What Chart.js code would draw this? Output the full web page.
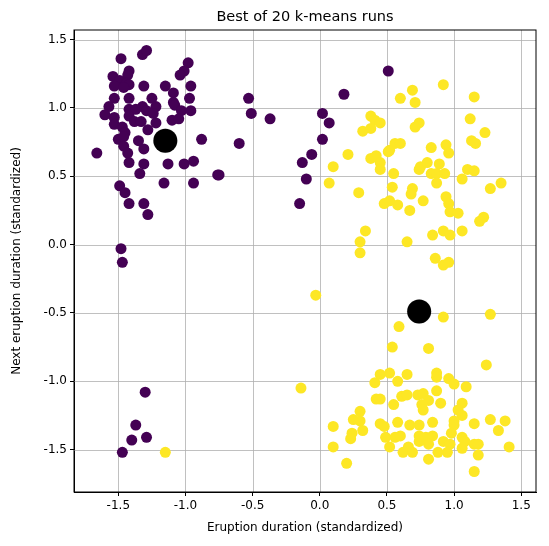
<!DOCTYPE html>
<html><head><meta charset="utf-8">
<script src="https://cdn.jsdelivr.net/npm/chart.js@4"></script>
<style>html,body{margin:0;background:#fff}#wrap{width:549px;height:546px}</style>
</head><body><div id="wrap"><canvas id="c"></canvas></div>
<script>
const cluster0 = [
  [-1.48,1.36],[-1.32,1.39],[-1.29,1.42],[-0.98,1.33],[-1.01,1.27],[-1.04,1.24],[-1.42,1.27],[-1.43,1.24],
  [-1.54,1.23],[-1.49,1.20],[-1.44,1.18],[-1.42,1.17],[-1.53,1.16],[-1.46,1.15],[-1.31,1.16],[-1.15,1.16],
  [-0.96,1.16],[-1.09,1.11],[-1.53,1.07],[-1.42,1.07],[-1.25,1.07],[-0.97,1.07],[-1.09,1.04],[-1.08,1.02],
  [-1.57,1.01],[-1.22,1.01],[-1.32,1.01],[-1.42,0.99],[-1.37,0.99],[-1.29,0.98],[-1.24,0.96],[-1.03,0.98],
  [-0.96,0.98],[-1.60,0.95],[-1.53,0.93],[-1.42,0.94],[-1.38,0.90],[-1.33,0.90],[-1.10,0.91],[-1.05,0.92],
  [-1.22,0.89],[-1.53,0.88],[-1.47,0.86],[-1.45,0.82],[-1.28,0.84],[-1.50,0.77],[-1.46,0.79],[-1.35,0.76],
  [-0.88,0.77],[-0.60,0.74],[-1.66,0.67],[-1.46,0.72],[-1.43,0.67],[-1.31,0.70],[-1.42,0.60],[-1.31,0.59],
  [-1.13,0.59],[-1.01,0.59],[-0.94,0.61],[-1.34,0.52],[-0.76,0.51],[-0.75,0.51],[-1.49,0.43],[-1.45,0.38],
  [-1.16,0.45],[-0.94,0.45],[-1.42,0.30],[-1.31,0.30],[-1.28,0.22],
  [-0.53,1.07],[-0.51,0.96],[-0.37,0.92],[0.02,0.96],[0.07,0.89],[0.02,0.77],[-0.06,0.66],[-0.13,0.60],
  [-0.10,0.48],[-0.15,0.30],[0.18,1.10],[0.51,1.27],
  [-1.48,-0.03],[-1.47,-0.13],[-1.30,-1.08],[-1.37,-1.32],[-1.40,-1.43],[-1.29,-1.41],[-1.47,-1.52]
];
const cluster1 = [
  [-1.15,-1.52],[-0.03,-0.37],[-0.14,-1.05],
  [0.92,1.17],[0.69,1.13],[0.60,1.07],[0.71,1.04],[1.15,1.08],[0.38,0.94],[0.41,0.91],[0.45,0.89],
  [0.32,0.83],[0.38,0.85],[0.74,0.89],[0.71,0.86],[1.12,0.92],[1.23,0.82],[0.56,0.74],[0.60,0.74],
  [0.51,0.68],[0.52,0.69],[0.83,0.71],[0.94,0.73],[0.96,0.67],[1.13,0.76],[1.16,0.74],[0.21,0.66],
  [0.38,0.63],[0.42,0.65],[0.45,0.60],[0.45,0.55],[0.10,0.57],[0.55,0.52],[0.74,0.55],[0.75,0.57],
  [0.80,0.60],[0.89,0.59],[0.83,0.52],[0.87,0.52],[0.93,0.52],[1.10,0.55],[1.15,0.54],[0.07,0.45],
  [0.87,0.45],[1.06,0.48],[1.35,0.45],[1.27,0.41],[0.29,0.38],[0.54,0.42],[0.69,0.41],[0.68,0.37],
  [0.48,0.30],[0.52,0.32],[0.58,0.29],[0.77,0.32],[0.67,0.25],[0.94,0.35],[0.96,0.30],[0.97,0.24],
  [1.03,0.23],[1.22,0.20],[1.19,0.17],[0.34,0.10],[0.30,0.02],[0.30,-0.06],[0.65,0.02],[0.84,0.07],
  [0.92,0.10],[0.97,0.07],[1.06,0.10],[0.86,-0.10],[0.92,-0.15],[0.96,-0.13],
  [0.92,-0.53],[1.27,-0.51],[0.59,-0.60],[0.54,-0.75],[0.81,-0.76],[1.24,-0.88],[0.41,-1.01],[0.45,-0.95],
  [0.52,-0.94],[0.58,-1.00],[0.65,-0.95],[0.87,-0.94],[0.87,-0.97],[0.96,-0.98],[1.00,-1.02],[1.09,-1.04],
  [0.87,-1.07],[0.42,-1.13],[0.45,-1.13],[0.61,-1.11],[0.65,-1.10],[0.73,-1.10],[0.77,-1.09],[0.81,-1.14],
  [0.76,-1.17],[0.77,-1.21],[0.90,-1.16],[1.06,-1.16],[1.03,-1.21],[1.06,-1.25],[0.55,-1.17],[0.30,-1.22],
  [0.30,-1.29],[0.25,-1.28],[0.32,-1.36],[0.24,-1.38],[0.23,-1.42],[0.10,-1.33],[0.10,-1.48],[0.45,-1.31],
  [0.48,-1.33],[0.58,-1.30],[0.67,-1.32],[0.74,-1.32],[0.84,-1.30],[1.00,-1.29],[1.00,-1.32],[1.15,-1.31],
  [1.27,-1.28],[1.38,-1.29],[1.33,-1.36],[1.41,-1.48],[0.49,-1.41],[0.56,-1.41],[0.60,-1.40],[0.52,-1.48],
  [0.66,-1.48],[0.62,-1.52],[0.69,-1.52],[0.74,-1.44],[0.74,-1.40],[0.79,-1.41],[0.84,-1.40],[0.81,-1.46],
  [0.92,-1.44],[0.98,-1.38],[0.97,-1.46],[0.95,-1.52],[0.88,-1.52],[1.06,-1.41],[1.08,-1.44],[1.06,-1.49],
  [1.15,-1.46],[1.18,-1.46],[1.18,-1.54],[0.81,-1.57],[0.20,-1.60],[1.15,-1.66]
];
const centroids = [[-1.15,0.76],[0.74,-0.49]];
const xTicks = [-1.5,-1.0,-0.5,0.0,0.5,1.0,1.5];
const yTicks = [-1.5,-1.0,-0.5,0.0,0.5,1.0,1.5];
const pts = (a) => a.map(p => ({x:p[0], y:p[1]}));
const font = {family:'DejaVu Sans', size:12};

// grid under the points, title and frame on top
const framePlugin = {
  id:'frame',
  beforeDatasetsDraw(c) {
    const ctx = c.ctx, a = c.chartArea, sx = c.scales.x, sy = c.scales.y;
    ctx.save();
    ctx.strokeStyle = '#b0b0b0'; ctx.lineWidth = 0.8;
    xTicks.forEach(v => { const p = Math.round(sx.getPixelForValue(v)) + 0.5; ctx.beginPath(); ctx.moveTo(p, a.top); ctx.lineTo(p, a.bottom); ctx.stroke(); });
    yTicks.forEach(v => { const p = Math.round(sy.getPixelForValue(v)) + 0.5; ctx.beginPath(); ctx.moveTo(a.left, p); ctx.lineTo(a.right, p); ctx.stroke(); });
    ctx.restore();
  },
  afterDraw(c) {
    const ctx = c.ctx, a = c.chartArea;
    ctx.save();
    ctx.font = '14.5px DejaVu Sans'; ctx.fillStyle = '#000'; ctx.textAlign = 'center'; ctx.textBaseline = 'middle';
    ctx.fillText('Best of 20 k-means runs', (a.left + a.right) / 2, 17);
    ctx.strokeStyle = '#000'; ctx.lineWidth = 1;
    ctx.strokeRect(a.left, a.top, a.right - a.left, a.bottom - a.top);
    ctx.restore();
  }
};

new Chart(document.getElementById('c'), {
  type:'scatter',
  data:{datasets:[
    {data:pts(centroids), backgroundColor:'#000', pointRadius:12, pointHoverRadius:12, order:0},
    {data:pts(cluster0), backgroundColor:'#440154', pointRadius:5.5, borderWidth:0, order:1},
    {data:pts(cluster1), backgroundColor:'#fde725', pointRadius:5.5, borderWidth:0, order:1}
  ]},
  options:{
    responsive:true, maintainAspectRatio:false, animation:false,
    layout:{padding:{top:30, right:9, left:6, bottom:7}},
    plugins:{legend:{display:false}, tooltip:{enabled:false}},
    scales:{
      x:{min:-1.83, max:1.61,
        afterBuildTicks:(ax) => { ax.ticks = xTicks.map(v => ({value:v})); },
        afterFit:(ax) => { ax.height = 47; },
        ticks:{color:'#000', font, maxRotation:0, callback:(v) => v.toFixed(1)},
        grid:{display:true, drawOnChartArea:false, tickColor:'#000', tickLength:4},
        border:{color:'#000'},
        title:{display:true, text:'Eruption duration (standardized)', color:'#000', font, padding:{top:2}}},
      y:{min:-1.81, max:1.57,
        afterBuildTicks:(ax) => { ax.ticks = yTicks.map(v => ({value:v})); },
        afterFit:(ax) => { ax.width = 68; },
        ticks:{color:'#000', font, callback:(v) => v.toFixed(1)},
        grid:{display:true, drawOnChartArea:false, tickColor:'#000', tickLength:4},
        border:{color:'#000'},
        title:{display:true, text:'Next eruption duration (standardized)', color:'#000', font, padding:{bottom:2}}}
    }
  },
  plugins:[framePlugin]
});
</script></body></html>
